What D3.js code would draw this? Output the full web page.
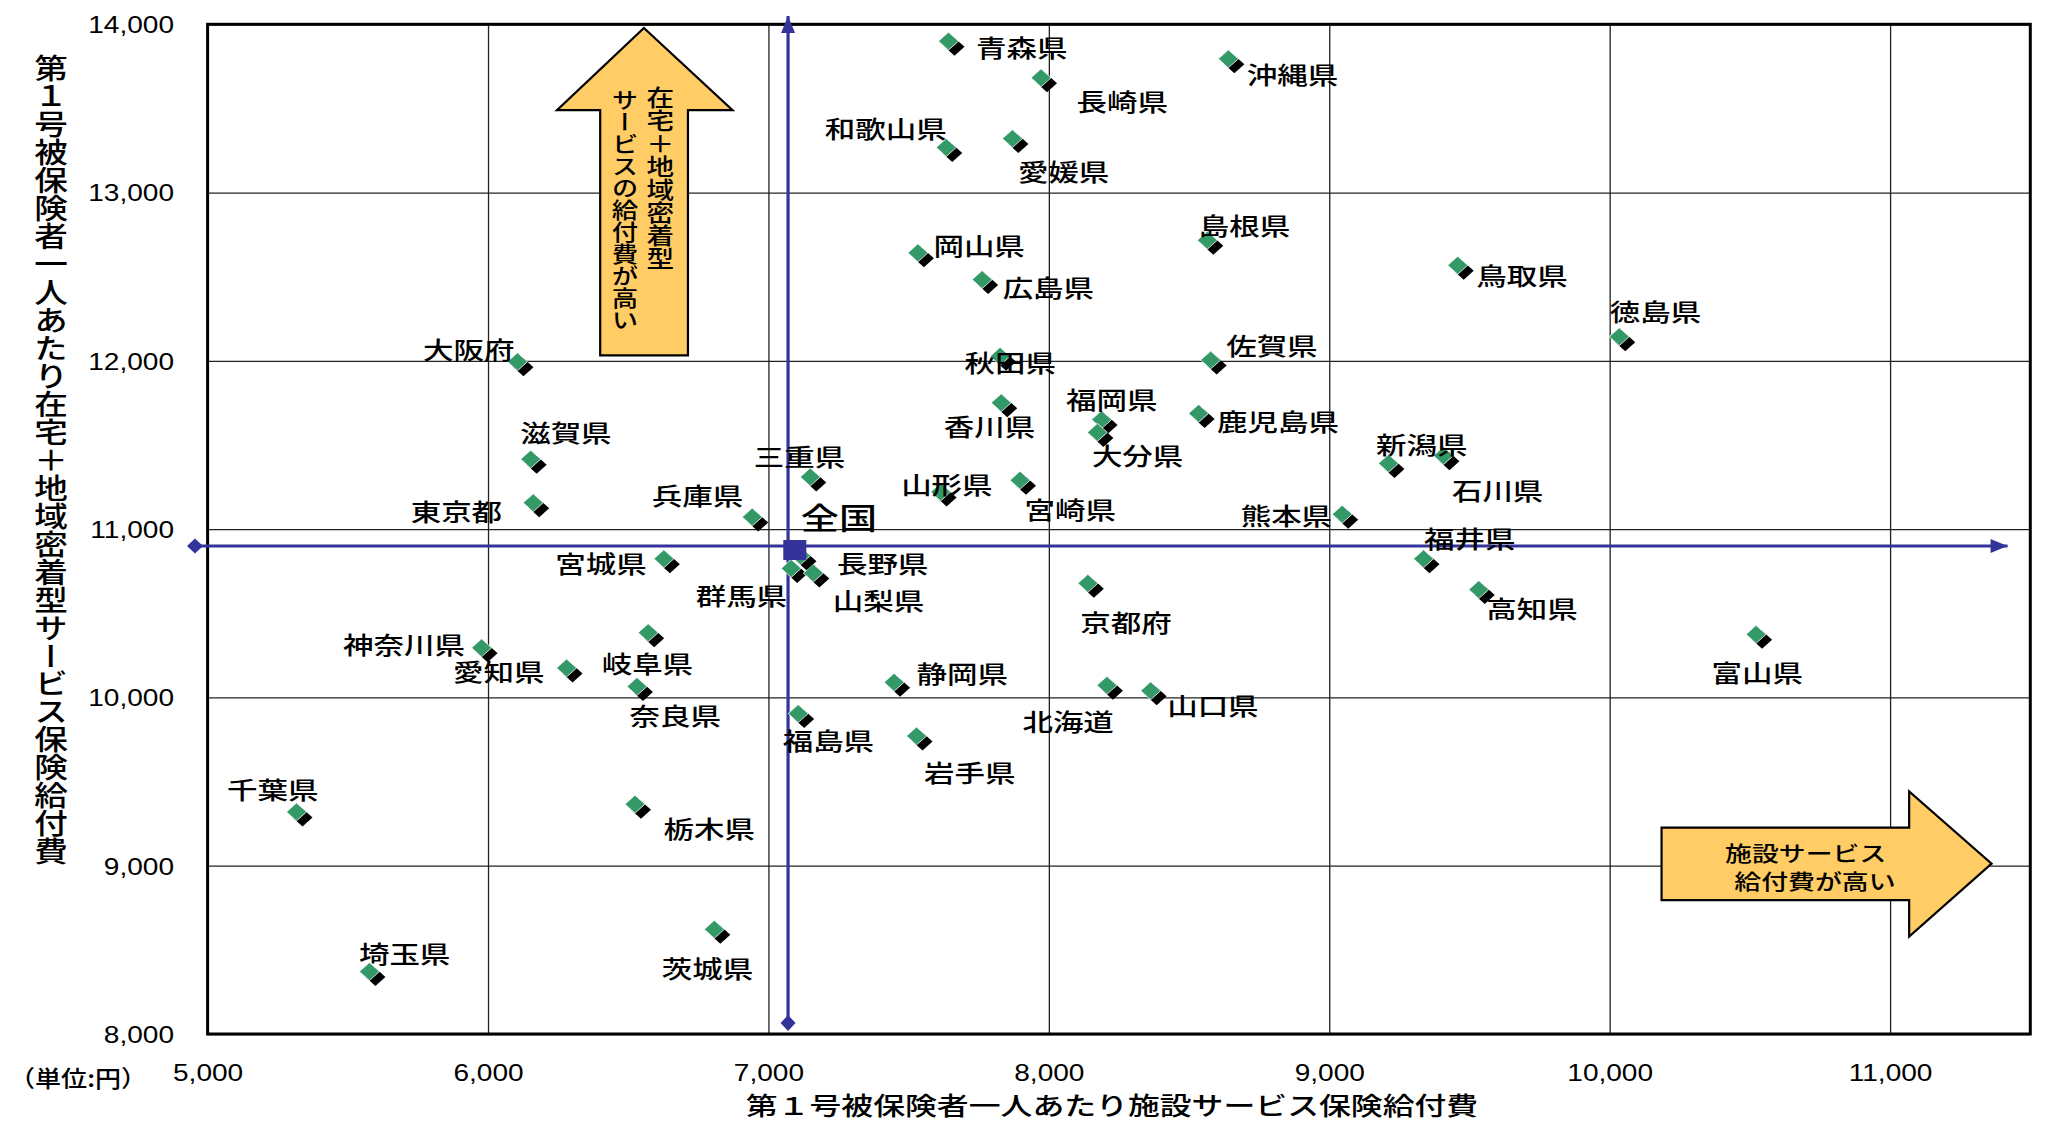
<!DOCTYPE html>
<html>
<head>
<meta charset="utf-8">
<script src="https://cdn.jsdelivr.net/npm/d3@7"></script>
<style>
  body { margin: 0; background: #fff; }
  svg { display: block; }
</style>
</head>
<body>
<script>
// 都道府県別 第1号被保険者一人あたり給付費
const prefs = ["北海道","青森県","岩手県","宮城県","秋田県","山形県","福島県","茨城県","栃木県","群馬県",
  "埼玉県","千葉県","東京都","神奈川県","新潟県","富山県","石川県","福井県","山梨県","長野県",
  "岐阜県","静岡県","愛知県","三重県","滋賀県","京都府","大阪府","兵庫県","奈良県","和歌山県",
  "鳥取県","島根県","岡山県","広島県","山口県","徳島県","香川県","愛媛県","高知県","福岡県",
  "佐賀県","長崎県","熊本県","大分県","宮崎県","鹿児島県","沖縄県"];
// 施設サービス (x)
const facility = [8216,7651,7537,6636,7835,7623,7115,6816,6533,7090,
  5586,5326,6170,5986,9220,10531,9416,9345,7169,7123,
  6580,7457,6289,7158,6161,8148,6114,6951,6540,7643,
  9467,8574,7542,7771,8372,10043,7839,7879,9542,8197,
  8586,7981,9055,8182,7906,8543,8649];
// 在宅+地域密着型サービス (y)
const home = [10057,13885,9756,10809,12012,11206,9889,8607,9351,10752,
  8356,9305,11142,10280,11376,10360,11422,10809,10724,10827,
  10370,10075,10160,11295,11401,10663,11980,11057,10050,13253,
  12553,12702,12627,12468,10025,12129,11736,13306,10626,11636,
  11990,13667,11074,11560,11276,11673,13780];
const national = {name: "全国", x: 7094, y: 10876};
const avgLineX = 7070, avgLineY = 10900;

const xTicks = [5000,6000,7000,8000,9000,10000,11000];
const yTicks = [8000,9000,10000,11000,12000,13000,14000];

// label offsets in px from the marker (left edge, centre line)
const labelOffset = [[-87,33],[25,3],[5,33],[-111,1],[-38,3],[-42,-11],[-18,23],[-55,36],[26,21],[-98,24],
  [-13,-22],[-72,-26],[-125,5],[-141,-7],[-15,-22],[-47,35],[6,31],[-2,-24],[17,24],[34,4],
  [-49,27],[20,-12],[-116,0],[-59,-24],[-13,-30],[-10,36],[-97,-16],[-103,-25],[-10,25],[-124,-23],
  [16,7],[-11,-18],[13,-11],[18,4],[14,11],[-12,-29],[-60,20],[3,29],[5,15],[-38,-24],
  [13,-18],[33,20],[-104,-2],[-8,20],[2,26],[16,5],[16,12]];

const W = 2045, H = 1121;
const plotL = 207.6, plotR = 2030.3, plotT = 24.3, plotB = 1034;
const JP = "'Noto Sans CJK JP', 'Noto Sans', sans-serif";
const NUM = "'Liberation Sans', Arial, sans-serif";
const BLUE = "#333399";

const x = d3.scaleLinear().domain([5000, 11500]).range([plotL, plotR]);
const y = d3.scaleLinear().domain([8000, 14000]).range([plotB, plotT]);

const svg = d3.select("body").append("svg").attr("width", W).attr("height", H);

// grid + tick labels
const gy = svg.append("g").attr("transform", "translate(" + plotL + ",0)")
  .call(d3.axisLeft(y).tickValues(yTicks).tickSize(-(plotR - plotL)).tickFormat(d3.format(",")));
gy.select(".domain").remove();
gy.selectAll("line").attr("stroke", "#222").attr("stroke-width", 1.3);
gy.selectAll("text").attr("x", -27.5).attr("dy", "0.36em")
  .attr("transform", "scale(1.22,1)")
  .style("font-family", NUM).style("font-size", "23px").attr("fill", "#000");

const gx = svg.append("g").attr("transform", "translate(0," + plotB + ")")
  .call(d3.axisBottom(x).tickValues(xTicks).tickSize(-(plotB - plotT)).tickFormat(d3.format(",")));
gx.select(".domain").remove();
gx.selectAll("line").attr("stroke", "#222").attr("stroke-width", 1.3);
gx.selectAll("text").attr("y", 39).attr("dy", "0.36em")
  .attr("transform", "scale(1.22,1)")
  .style("font-family", NUM).style("font-size", "23px").attr("fill", "#000");

svg.append("rect").attr("x", plotL).attr("y", plotT)
  .attr("width", plotR - plotL).attr("height", plotB - plotT)
  .attr("fill", "none").attr("stroke", "#000").attr("stroke-width", 3);

// yellow arrows (data units)
const upArrow = [[6556,13978],[6872,13490],[6713,13490],[6713,12033],[6400,12033],[6400,13490],[6246,13490]];
const rightArrow = [[11362,9012],[11068,8579],[11068,8796],[10185,8796],[10185,9226],[11068,9226],[11068,9442]];
const poly = d3.line().x(d => x(d[0])).y(d => y(d[1])).curve(d3.curveLinearClosed);
[upArrow, rightArrow].forEach(a => {
  svg.append("path").attr("d", poly(a))
    .attr("fill", "#FFCC66").attr("stroke", "#000").attr("stroke-width", 2.2);
});

function vtext(str, dx, dy, size) {
  svg.append("text").text(str)
    .attr("transform", "translate(" + x(dx) + "," + y(dy) + ") scale(1.2,1)")
    .style("writing-mode", "vertical-rl")
    .style("font-family", JP).style("font-size", size + "px").style("font-weight", 500)
    .attr("fill", "#000");
}
vtext("在宅＋地域密着型", 6614, 13633, 23);
vtext("サービスの給付費が高い", 6488, 13615, 22);

[["施設サービス", 10699, 9084], ["給付費が高い", 10732, 8914]].forEach(t => {
  svg.append("text").text(t[0])
    .attr("transform", "translate(" + x(t[1]) + "," + y(t[2]) + ") scale(1.28,1)")
    .attr("text-anchor", "middle").attr("dominant-baseline", "central")
    .style("font-family", JP).style("font-size", "21px").style("font-weight", 500)
    .attr("fill", "#000");
});

// average lines with diamond start / arrow end
const defs = svg.append("defs");
defs.append("marker").attr("id", "dia").attr("markerUnits", "userSpaceOnUse")
  .attr("viewBox", "-9 -9 18 18").attr("markerWidth", 18).attr("markerHeight", 18)
  .attr("refX", 0).attr("refY", 0).attr("orient", "auto")
  .append("path").attr("d", "M-8,0L0,-7.5L8,0L0,7.5Z").attr("fill", BLUE);
defs.append("marker").attr("id", "arr").attr("markerUnits", "userSpaceOnUse")
  .attr("viewBox", "-18 -8 19 16").attr("markerWidth", 19).attr("markerHeight", 16)
  .attr("refX", 0).attr("refY", 0).attr("orient", "auto")
  .append("path").attr("d", "M0,0L-17,-7L-17,7Z").attr("fill", BLUE);

svg.append("line")
  .attr("x1", x(4955)).attr("x2", x(11419)).attr("y1", y(avgLineY)).attr("y2", y(avgLineY))
  .attr("stroke", BLUE).attr("stroke-width", 3.2)
  .attr("marker-start", "url(#dia)").attr("marker-end", "url(#arr)");
svg.append("line")
  .attr("x1", x(avgLineX)).attr("x2", x(avgLineX)).attr("y1", y(8065)).attr("y2", y(14050))
  .attr("stroke", BLUE).attr("stroke-width", 3.2)
  .attr("marker-start", "url(#dia)").attr("marker-end", "url(#arr)");

// prefecture markers: black depth diamond + green diamond on top
const diamond = "M-10,0L0,-9L10,0L0,9Z";
const pts = svg.append("g").selectAll("g").data(prefs).join("g")
  .attr("transform", (d, i) => "translate(" + x(facility[i]) + "," + y(home[i]) + ")");
pts.append("path").attr("d", diamond).attr("transform", "translate(3.5,3)").attr("fill", "#000");
pts.append("path").attr("d", diamond).attr("transform", "translate(-2.5,-2.5)")
  .attr("fill", "#339966").attr("stroke", "#fff").attr("stroke-width", 0.8);

svg.append("rect")
  .attr("x", x(national.x) - 11.5).attr("y", y(national.y) - 10)
  .attr("width", 23).attr("height", 20).attr("fill", BLUE);

svg.append("g").selectAll("text").data(prefs).join("text")
  .text(d => d)
  .attr("transform", (d, i) => "translate(" + (x(facility[i]) + labelOffset[i][0]) + "," +
    (y(home[i]) + labelOffset[i][1]) + ") scale(1.27,1)")
  .attr("dominant-baseline", "central")
  .style("font-family", JP).style("font-size", "24px").style("font-weight", 500)
  .attr("fill", "#000");

svg.append("text").text(national.name)
  .attr("transform", "translate(" + (x(national.x) + 6) + "," + (y(national.y) - 34) + ") scale(1.27,1)")
  .attr("dominant-baseline", "central")
  .style("font-family", JP).style("font-size", "30px").style("font-weight", 500)
  .attr("fill", "#000");

// axis titles
svg.append("text").text("第１号被保険者一人あたり在宅＋地域密着型サービス保険給付費")
  .attr("transform", "translate(51,54) scale(1.2,1)")
  .style("writing-mode", "vertical-rl")
  .style("font-family", JP).style("font-size", "28px").style("font-weight", 500)
  .attr("fill", "#000");

svg.append("text").text("第１号被保険者一人あたり施設サービス保険給付費")
  .attr("transform", "translate(1112,1104) scale(1.3,1)")
  .attr("text-anchor", "middle").attr("dominant-baseline", "central")
  .style("font-family", JP).style("font-size", "24.5px").style("font-weight", 500)
  .attr("fill", "#000");

svg.append("text").text("（単位:円）")
  .attr("x", 9).attr("y", 1077)
  .attr("textLength", 138).attr("lengthAdjust", "spacingAndGlyphs")
  .attr("dominant-baseline", "central")
  .style("font-family", JP).style("font-size", "23px").style("font-weight", 500)
  .attr("fill", "#000");
</script>
</body>
</html>
